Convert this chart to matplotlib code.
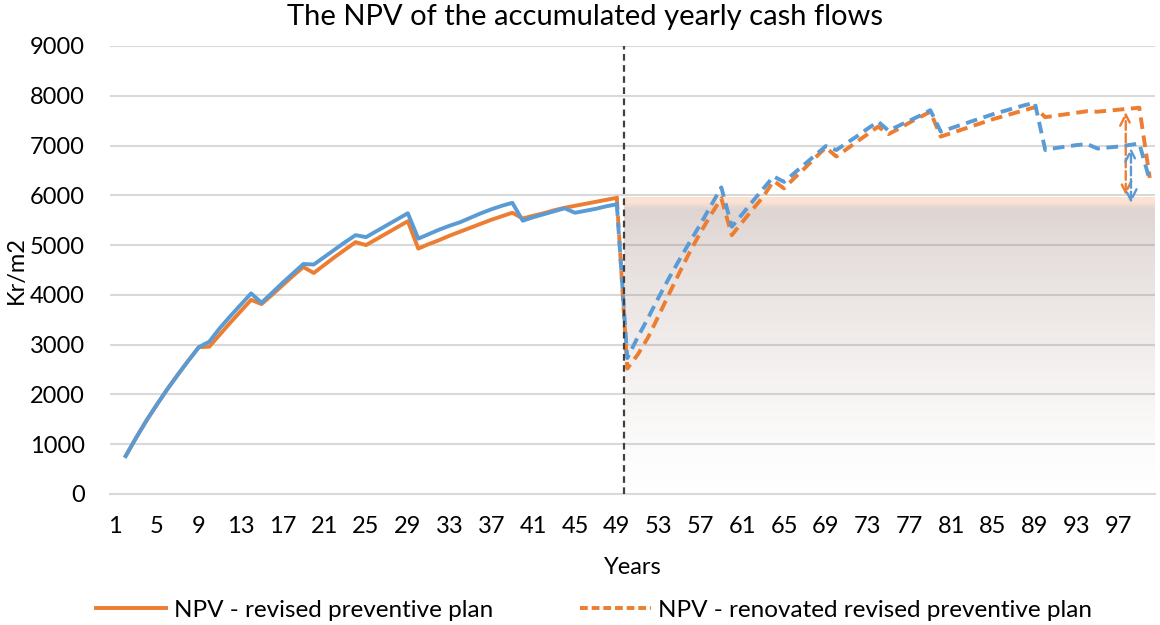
import numpy as np
import matplotlib.pyplot as plt
from matplotlib.lines import Line2D

plt.rcParams['font.family'] = ['Lato', 'DejaVu Sans']

# first period (years 2-49), solid lines
years_solid = list(range(2, 50))
orange_solid = [763, 1130, 1480, 1800, 2110, 2400, 2680, 2950,
                2960, 3200, 3440, 3670, 3900, 3815,
                4000, 4190, 4380, 4560, 4440,
                4600, 4760, 4910, 5060, 5000,
                5120, 5240, 5360, 5480, 4930,
                5020, 5100, 5190, 5270, 5350, 5430, 5510, 5580, 5650, 5535,
                5590, 5640, 5700, 5750, 5790, 5830, 5870, 5910, 5950]
blue_solid = [763, 1130, 1480, 1800, 2110, 2400, 2680, 2950,
              3060, 3330, 3570, 3800, 4030, 3843,
              4040, 4240, 4430, 4620, 4610,
              4760, 4910, 5060, 5200, 5160,
              5280, 5400, 5520, 5640, 5130,
              5220, 5310, 5390, 5460, 5550, 5640, 5720, 5790, 5850, 5490,
              5560, 5620, 5680, 5740, 5650, 5690, 5730, 5780, 5820]

# second period (years 49-100), dashed lines
years_dashed = list(range(49, 101))
orange_dashed = [5950, 2520, 2800, 3150, 3580, 4020, 4450, 4870, 5250, 5610, 5940,
                 5200, 5460, 5720, 5970, 6290,
                 6140, 6350, 6550, 6760, 6960,
                 6780, 6930, 7080, 7230, 7380,
                 7230, 7340, 7460, 7570, 7680,
                 7180, 7250, 7320, 7390, 7460, 7530, 7590, 7650, 7710, 7770,
                 7570, 7600, 7630, 7660, 7690,
                 7680, 7700, 7720, 7740, 7760, 6350]
blue_dashed = [5820, 2730, 3150, 3540, 3950, 4340, 4710, 5070, 5420, 5790, 6160,
               5370, 5620, 5880, 6130, 6380,
               6270, 6450, 6630, 6810, 6990,
               6910, 7050, 7190, 7340, 7480,
               7300, 7400, 7500, 7600, 7710,
               7280, 7350, 7420, 7490, 7560, 7630, 7690, 7750, 7810, 7860,
               6910, 6950, 6980, 7010, 7030,
               6940, 6960, 6980, 7010, 7040, 6300]

tick_years = list(range(1, 98, 4))
split_year = 49.7
arrow_years = [97.7, 98.2]   # orange, blue

ORANGE = '#ED7D31'
BLUE = '#5B9BD5'

fig = plt.figure(figsize=(11.6, 6.25), dpi=100)
ax = fig.add_axes([110 / 1160, 1 - 494 / 625, 1045 / 1160, 448 / 625])

# shaded band after the renovation
top = orange_solid[-1]
vals = np.linspace(0, top, 400)
alpha = np.interp(vals, [0, 800, 2300, 3900, 5100, 5780, top - 60, top],
                  [0, 0.02, 0.09, 0.17, 0.24, 0.29, 0.30, 0.30])
peach = np.interp(vals, [0, 5720, 5850, top], [0, 0, 1, 1])
base = np.array([0.55, 0.42, 0.38])
warm = np.array([0.96, 0.62, 0.42])
rgb = base[None, :] * (1 - peach[:, None]) + warm[None, :] * peach[:, None]
img = np.dstack([np.tile(rgb[:, i:i + 1], (1, 2)) for i in range(3)] +
                [np.tile(alpha[:, None], (1, 2))])
ax.imshow(img, origin='lower', aspect='auto', extent=[split_year, 100.5, 0, top],
          zorder=1, interpolation='bilinear')

ax.plot(years_solid, orange_solid, color=ORANGE, lw=2.8, solid_joinstyle='round', zorder=3)
ax.plot(years_solid, blue_solid, color=BLUE, lw=2.8, solid_joinstyle='round', zorder=4)
ax.plot(years_dashed, orange_dashed, color=ORANGE, lw=2.8, dashes=(3.0, 1.7), zorder=3)
ax.plot(years_dashed, blue_dashed, color=BLUE, lw=2.8, dashes=(3.0, 1.7), zorder=4)

ax.axvline(split_year, color='#404040', lw=1.6, dashes=(3, 2), zorder=5)

# gain arrows
ax.annotate('', xy=(arrow_years[0], orange_dashed[-2] - 30), xytext=(arrow_years[0], orange_solid[-1]),
            arrowprops=dict(arrowstyle='<->', color=ORANGE, lw=1.7, ls='--', mutation_scale=20))
ax.annotate('', xy=(arrow_years[1], blue_dashed[-2] - 30), xytext=(arrow_years[1], blue_solid[-1] - 30),
            arrowprops=dict(arrowstyle='<->', color=BLUE, lw=1.7, ls='--', mutation_scale=20))

ax.set_xlim(0.5, 100.5)
ax.set_ylim(0, 9000)
ax.set_yticks(range(0, 9001, 1000))
ax.set_xticks(tick_years)
ax.set_xticklabels([str(t) for t in tick_years])
ax.tick_params(axis='both', length=0, labelsize=17, colors='#000000')
ax.tick_params(axis='x', pad=16)
ax.tick_params(axis='y', pad=18)
ax.grid(axis='y', color='#d9d9d9', lw=1.5, zorder=0)
ax.set_axisbelow(True)
for s in ['top', 'right', 'left']:
    ax.spines[s].set_visible(False)
ax.spines['bottom'].set_color('#d9d9d9')
ax.spines['bottom'].set_linewidth(1.5)

ax.set_ylabel('Kr/m2', fontsize=17)
ax.yaxis.set_label_coords(-83 / 1045, 0.5)
ax.set_xlabel('Years', fontsize=17, labelpad=14)
fig.text(585 / 1160, 1 - 17 / 625, 'The NPV of the accumulated yearly cash flows',
         ha='center', va='center', fontsize=21)

handles = [Line2D([0], [0], color=ORANGE, lw=2.8),
           Line2D([0], [0], color=ORANGE, lw=2.8, dashes=(2, 1))]
fig.legend(handles, ['NPV - revised preventive plan', 'NPV - renovated revised preventive plan'],
           loc='center', bbox_to_anchor=(594 / 1160, 1 - 610 / 625), ncol=2, frameon=False,
           fontsize=17.5, handlelength=2.9, handletextpad=0.3, columnspacing=3.6)

fig.savefig('out.png', dpi=100)
